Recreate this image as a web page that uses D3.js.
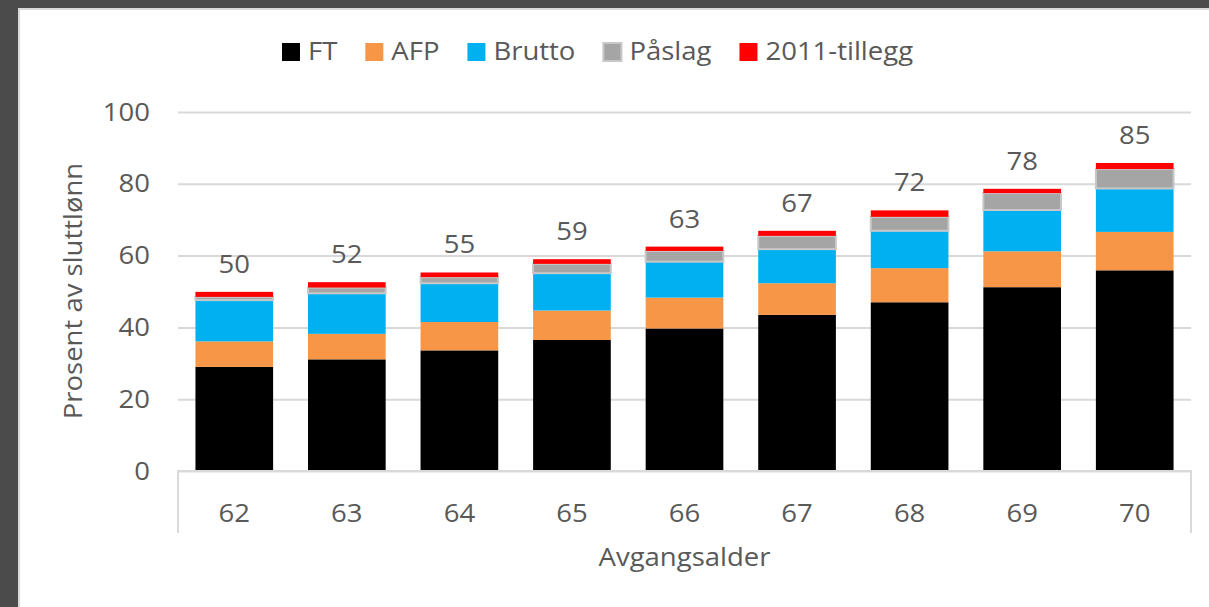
<!DOCTYPE html>
<html>
<head>
<meta charset="utf-8">
<script src="https://cdn.jsdelivr.net/npm/d3@7"></script>
<style>
  body { margin: 0; background: #4b4b4b; }
  svg { display: block; }
  text { font-family: "Open Sans", sans-serif; fill: #595959; }
</style>
</head>
<body>
<svg id="chart" width="1209" height="607"></svg>
<script>
// data
const ages = ["62", "63", "64", "65", "66", "67", "68", "69", "70"];
const seriesNames = ["FT", "AFP", "Brutto", "Påslag", "2011-tillegg"];
const ft = [29.0, 31.1, 33.6, 36.5, 39.7, 43.5, 47.0, 51.2, 55.9];
const afp = [7.1, 7.1, 7.9, 8.2, 8.6, 8.8, 9.5, 10.0, 10.7];
const brutto = [11.5, 11.3, 10.8, 10.4, 10.0, 9.5, 10.4, 11.5, 12.1];
const paslag = [0.9, 1.6, 1.7, 2.6, 3.0, 3.7, 3.9, 4.7, 5.4];
const tillegg = [1.4, 1.5, 1.3, 1.3, 1.2, 1.4, 1.8, 1.2, 1.7];
const totalLabels = [50, 52, 55, 59, 63, 67, 72, 78, 85];
const yTicks = [0, 20, 40, 60, 80, 100];

const colors = ["#000000", "#f79646", "#00b0f0", "#a5a5a5", "#ff0000"];
const sx = 1.1; // text is a bit wide in the original

const svg = d3.select("#chart");

// white panel inside dark frame
svg.append("rect").attr("x", 18).attr("y", 8).attr("width", 1191).attr("height", 599)
  .attr("fill", "#fff");
svg.append("path").attr("d", "M19,607V9H1209").attr("fill", "none")
  .attr("stroke", "#d9d9d9").attr("stroke-width", 2);

const plotLeft = 178, plotRight = 1191, plotTop = 112, plotBottom = 471;

const x = d3.scaleBand().domain(ages).range([plotLeft, plotRight])
  .paddingInner(0.31).paddingOuter(0.155);
const y = d3.scaleLinear().domain([0, 100]).range([plotBottom, plotTop]);

// gridlines + y labels
const yAxis = svg.append("g")
  .attr("transform", "translate(" + plotLeft + ",0)")
  .call(d3.axisLeft(y).tickValues(yTicks).tickSize(-(plotRight - plotLeft)).tickPadding(28));
yAxis.select(".domain").remove();
yAxis.selectAll("line").attr("stroke", "#d9d9d9").attr("stroke-width", 2);
yAxis.selectAll("text")
  .style("font-size", "25px").attr("fill", "#595959")
  .attr("transform", "scale(" + sx + ",1)")
  .attr("x", function() { return +d3.select(this).attr("x") / sx; });

// stacked bars
const rows = ages.map((a, i) => ({
  age: a, FT: ft[i], AFP: afp[i], Brutto: brutto[i], "Påslag": paslag[i], "2011-tillegg": tillegg[i]
}));
const stack = d3.stack().keys(seriesNames)(rows);

const layers = svg.append("g").selectAll("g")
  .data(stack)
  .join("g")
  .attr("fill", (d, i) => colors[i]);

layers.selectAll("rect")
  .data(d => d)
  .join("rect")
  .attr("x", d => x(d.data.age))
  .attr("y", d => y(d[1]))
  .attr("width", x.bandwidth())
  .attr("height", d => y(d[0]) - y(d[1]));

// Påslag segments have a light rim
layers.filter(d => d.key === "Påslag").selectAll("rect")
  .attr("stroke", "#c8c8c8").attr("stroke-width", 2);

// total labels
const last = stack[stack.length - 1];
svg.append("g").selectAll("text")
  .data(last)
  .join("text")
  .attr("transform", d => "translate(" + (x(d.data.age) + x.bandwidth() / 2) + "," + (y(d[1]) - 19) + ") scale(" + sx + ",1)")
  .attr("text-anchor", "middle")
  .style("font-size", "25px")
  .text((d, i) => totalLabels[i]);

// category axis
svg.append("path")
  .attr("d", "M" + plotLeft + ",533V" + plotBottom + "H" + plotRight + "V533")
  .attr("fill", "none").attr("stroke", "#d9d9d9").attr("stroke-width", 2);

svg.append("g").selectAll("text")
  .data(ages)
  .join("text")
  .attr("transform", d => "translate(" + (x(d) + x.bandwidth() / 2) + ",522) scale(" + sx + ",1)")
  .attr("text-anchor", "middle")
  .style("font-size", "25px")
  .text(d => d);

// axis titles
svg.append("text")
  .attr("transform", "translate(" + ((plotLeft + plotRight) / 2) + ",566) scale(" + sx + ",1)")
  .attr("text-anchor", "middle").style("font-size", "25px")
  .text("Avgangsalder");

svg.append("text")
  .attr("transform", "translate(82,291) rotate(-90) scale(" + sx + ",1)")
  .attr("text-anchor", "middle").style("font-size", "25px")
  .text("Prosent av sluttlønn");

// legend
const legend = svg.append("g");
let lx = 282;
seriesNames.forEach((name, i) => {
  const sq = legend.append("rect")
    .attr("x", lx).attr("y", 43).attr("width", 18).attr("height", 18)
    .attr("fill", colors[i]);
  if (name === "Påslag") sq.attr("stroke", "#c8c8c8").attr("stroke-width", 2);
  const t = legend.append("text")
    .attr("transform", "translate(" + (lx + 26) + ",60) scale(" + sx + ",1)")
    .style("font-size", "25px")
    .text(name);
  lx += 26 + t.node().getComputedTextLength() * sx + 28;
});
</script>
</body>
</html>
